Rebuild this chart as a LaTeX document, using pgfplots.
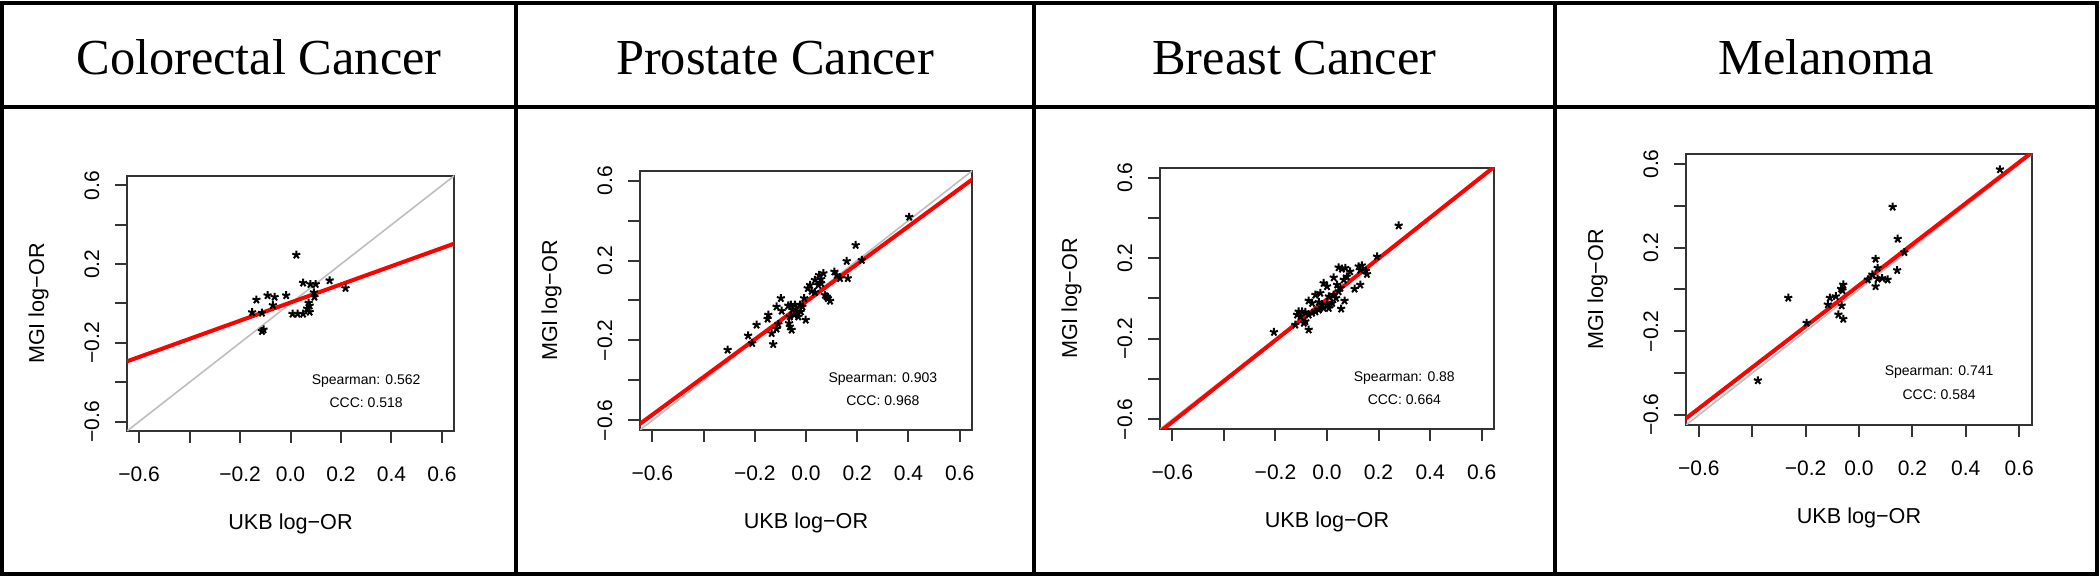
\documentclass[border=0pt]{standalone}
\usepackage{fontspec}
\setmainfont{Liberation Serif}
\setsansfont{Liberation Sans}
\usepackage{pgfplots}
\pgfplotsset{compat=1.18}

\definecolor{fitred}{RGB}{255,0,0}
\definecolor{idgray}{RGB}{190,190,190}

\pgfplotsset{
  orpanel/.style={
    scale only axis,
    anchor=south west,
    xmin=-0.648, xmax=0.648, ymin=-0.648, ymax=0.648,
    axis line style={line width=0.5pt, black!80},
    xtick={-0.6,-0.4,-0.2,0,0.2,0.4,0.6},
    ytick={-0.6,-0.4,-0.2,0,0.2,0.4,0.6},
    xticklabels={−0.6,,−0.2,0.0,0.2,0.4,0.6},
    yticklabels={−0.6,,−0.2,,0.2,,0.6},
    tick align=outside, tick pos=left,
    major tick length=3pt,
    tick style={line width=0.5pt, black!80},
    ticklabel style={font=\fontsize{5.25}{6}\selectfont\sffamily},
    yticklabel style={rotate=90, anchor=south},
    xticklabel shift=2.5pt, yticklabel shift=0.4pt,
    xlabel={UKB log−OR}, ylabel={MGI log−OR},
    label style={font=\fontsize{5.4}{6}\selectfont\sffamily},
    xlabel shift=1.1pt, ylabel shift=2.1pt,
  },
  idline/.style={idgray, line width=0.4pt, forget plot},
  fitline/.style={fitred, line width=1pt, forget plot},
  pts/.style={only marks, mark=star, mark size=1.05pt, black, mark options={line width=0.5pt}},
}
\tikzset{stat/.style={font=\fontsize{3.5}{4}\selectfont\sffamily}}

\begin{document}
\begin{tikzpicture}
\useasboundingbox (0,0) rectangle (525pt,144.25pt);

% table frame
\draw[line width=1pt] (0.5pt,0.75pt) rectangle (524.25pt,143.5pt);
\draw[line width=1pt] (0.5pt,117.5pt) -- (524.25pt,117.5pt);
\draw[line width=1pt] (129pt,0.75pt) -- (129pt,143.5pt);
\draw[line width=1pt] (258.5pt,0.75pt) -- (258.5pt,143.5pt);
\draw[line width=1pt] (388.75pt,0.75pt) -- (388.75pt,143.5pt);

\node[font=\fontsize{12.6}{13}\selectfont, anchor=base] at (64.75pt,125.5pt) {Colorectal Cancer};
\node[font=\fontsize{12.6}{13}\selectfont, anchor=base] at (193.75pt,125.5pt) {Prostate Cancer};
\node[font=\fontsize{12.6}{13}\selectfont, anchor=base] at (323.6pt,125.5pt) {Breast Cancer};
\node[font=\fontsize{12.6}{13}\selectfont, anchor=base] at (456.5pt,125.5pt) {Melanoma};

% Colorectal
\begin{axis}[orpanel, at={(31.75pt,36.5pt)}, width=81.75pt, height=63.75pt]
\addplot[idline] coordinates {(-0.7,-0.7) (0.7,0.7)};
\addplot[pts] coordinates {
(0.023,0.247) (0.050,0.105) (0.079,0.098) (0.100,0.098) (0.155,0.117)
(0.218,0.078) (0.093,0.056) (0.095,0.033) (0.072,0.003) (0.076,-0.011)
(0.066,-0.026) (0.076,-0.043) (0.008,-0.053) (0.028,-0.053) (0.050,-0.053)
(-0.135,0.019) (-0.091,0.041) (-0.063,0.033) (-0.017,0.041) (-0.070,-0.009)
(-0.152,-0.045) (-0.113,-0.048) (-0.113,-0.141) (-0.107,-0.133)
};
\addplot[fitline] coordinates {(-0.7,-0.318) (0.7,0.328)};
\node[stat] at (axis cs:0.3,-0.395) {Spearman: 0.562};
\node[stat] at (axis cs:0.3,-0.502) {CCC: 0.518};
\end{axis}

% Prostate
\begin{axis}[orpanel, at={(160pt,36.75pt)}, width=83pt, height=64.75pt]
\addplot[idline] coordinates {(-0.7,-0.7) (0.7,0.7)};
\addplot[pts] coordinates {
(0.403,0.418) (0.194,0.277) (0.218,0.202) (0.159,0.197) (0.163,0.111)
(0.133,0.111) (0.111,0.144) (0.120,0.127) (0.068,0.136) (0.051,0.127)
(0.059,0.107) (0.035,0.102) (0.016,0.077) (0.007,0.061) (0.022,0.047)
(0.035,0.041) (0.059,0.086) (0.048,0.077) (0.074,0.027) (0.085,0.011)
(0.094,-0.002) (0.081,0.019) (-0.007,0.011) (-0.023,-0.022) (-0.014,-0.031)
(-0.043,-0.022) (-0.059,-0.022) (-0.069,-0.026) (-0.053,-0.047) (-0.036,-0.056)
(-0.046,-0.072) (-0.030,-0.081) (-0.020,-0.056) (-0.001,-0.097) (-0.098,0.011)
(-0.115,-0.031) (-0.095,-0.052) (-0.147,-0.072) (-0.150,-0.092) (-0.063,-0.081)
(-0.066,-0.114) (-0.056,-0.147) (-0.063,-0.131) (-0.108,-0.119) (-0.115,-0.142)
(-0.134,-0.164) (-0.193,-0.122) (-0.226,-0.176) (-0.210,-0.214) (-0.128,-0.219)
(-0.306,-0.247)
};
\addplot[fitline] coordinates {(-0.7,-0.666) (0.7,0.654)};
\node[stat] at (axis cs:0.3,-0.395) {Spearman: 0.903};
\node[stat] at (axis cs:0.3,-0.502) {CCC: 0.968};
\end{axis}

% Breast
\begin{axis}[orpanel, at={(290pt,37pt)}, width=83.5pt, height=65.25pt]
\addplot[idline] coordinates {(-0.7,-0.7) (0.7,0.7)};
\addplot[pts] coordinates {
(0.278,0.362) (0.194,0.208) (0.123,0.159) (0.135,0.164) (0.151,0.137)
(0.129,0.142) (0.155,0.121) (0.045,0.154) (0.058,0.147) (0.071,0.151)
(0.090,0.134) (0.026,0.104) (0.077,0.109) (0.065,0.093) (-0.013,0.076)
(0.000,0.060) (0.039,0.068) (0.052,0.052) (0.045,0.035) (0.107,0.048)
(0.129,0.068) (-0.026,0.027) (-0.045,0.018) (0.007,0.010) (0.026,0.018)
(0.035,0.002) (-0.071,-0.011) (-0.058,-0.023) (-0.032,-0.018) (-0.019,-0.031)
(0.000,-0.031) (0.013,-0.031) (0.068,-0.011) (0.055,-0.051) (-0.110,-0.065)
(-0.097,-0.065) (-0.084,-0.068) (-0.116,-0.081) (-0.103,-0.089) (-0.071,-0.081)
(-0.058,-0.072) (-0.045,-0.065) (-0.032,-0.056) (-0.013,-0.048) (-0.123,-0.131)
(-0.090,-0.122) (-0.071,-0.155) (-0.084,-0.114) (-0.206,-0.167) (0.007,-0.048)
(0.020,-0.023)
};
\addplot[fitline] coordinates {(-0.7,-0.714) (0.7,0.706)};
\node[stat] at (axis cs:0.3,-0.395) {Spearman: 0.88};
\node[stat] at (axis cs:0.3,-0.502) {CCC: 0.664};
\end{axis}

% Melanoma
\begin{axis}[orpanel, at={(421.5pt,38pt)}, width=86.5pt, height=67.75pt]
\addplot[idline] coordinates {(-0.7,-0.7) (0.7,0.7)};
\addplot[pts] coordinates {
(0.528,0.574) (0.126,0.395) (0.145,0.242) (0.170,0.178) (0.062,0.146)
(0.070,0.103) (0.143,0.092) (0.050,0.071) (0.033,0.047) (0.070,0.051)
(0.087,0.054) (0.107,0.047) (0.062,0.015) (-0.059,0.023) (-0.067,0.003)
(-0.062,-0.004) (-0.087,-0.033) (-0.109,-0.040) (-0.117,-0.072) (-0.065,-0.077)
(-0.077,-0.120) (-0.059,-0.141) (-0.265,-0.040) (-0.196,-0.160) (-0.379,-0.435)
};
\addplot[fitline] coordinates {(-0.7,-0.667) (0.7,0.707)};
\node[stat] at (axis cs:0.3,-0.395) {Spearman: 0.741};
\node[stat] at (axis cs:0.3,-0.502) {CCC: 0.584};
\end{axis}
\end{tikzpicture}
\end{document}
